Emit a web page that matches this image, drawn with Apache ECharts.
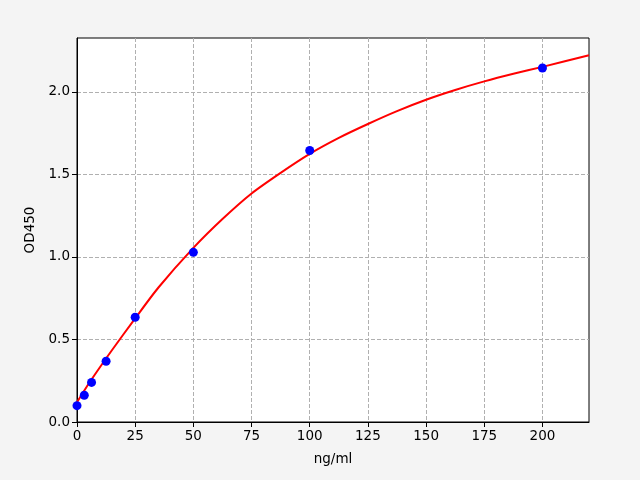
<!DOCTYPE html>
<html>
<head>
<meta charset="utf-8">
<script src="https://cdn.jsdelivr.net/npm/echarts@6/dist/echarts.min.js"></script>
<style>
html,body{margin:0;padding:0;background:#f4f4f4;}
#c{width:640px;height:480px;}
</style>
</head>
<body>
<div id="c"></div>
<script>
// Measured standards
var concentrations = [0, 3.125, 6.25, 12.5, 25, 50, 100, 200];
var odValues = [0.099, 0.162, 0.240, 0.368, 0.635, 1.028, 1.645, 2.145];
// Fitted curve
var curveX = [0, 5, 10, 15, 25, 35, 50, 62.5, 75, 87.5, 100, 112.5, 125, 137.5, 150, 162.5, 175, 187.5, 200, 220];
var curveY = [0.120, 0.232, 0.335, 0.435, 0.628, 0.815, 1.055, 1.230, 1.385, 1.510, 1.625, 1.722, 1.806, 1.884, 1.953, 2.012, 2.064, 2.110, 2.152, 2.222];
var xTicks = [0, 25, 50, 75, 100, 125, 150, 175, 200];
var yTicks = [0, 0.5, 1.0, 1.5, 2.0];

var chart = echarts.init(document.getElementById('c'));
var font = 'DejaVu Sans';
chart.setOption({
  backgroundColor: '#f4f4f4',
  animation: false,
  grid: {left: 77, right: 51, top: 38, bottom: 58, show: true, backgroundColor: '#ffffff', borderColor: '#000000', borderWidth: 1},
  xAxis: {
    type: 'value', min: 0, max: 220, interval: 25,
    name: 'ng/ml', nameLocation: 'middle', nameGap: 30,
    nameTextStyle: {fontFamily: font, fontSize: 13.5, color: '#000'},
    axisLine: {show: true, lineStyle: {color: '#000', width: 1}},
    axisTick: {show: true, inside: false, length: 5, lineStyle: {color: '#000'}, customValues: xTicks},
    axisLabel: {fontFamily: font, fontSize: 13.5, color: '#000', margin: 7, customValues: xTicks},
    splitLine: {show: true, lineStyle: {color: '#b0b0b0', type: [4, 2], width: 1}}
  },
  yAxis: {
    type: 'value', min: 0, max: 2.327, interval: 0.5,
    name: 'OD450', nameLocation: 'middle', nameGap: 37,
    nameTextStyle: {fontFamily: font, fontSize: 13.5, color: '#000'},
    axisLine: {show: true, lineStyle: {color: '#000', width: 1}},
    axisTick: {show: true, inside: false, length: 5, lineStyle: {color: '#000'}, customValues: yTicks},
    axisLabel: {fontFamily: font, fontSize: 13.5, color: '#000', margin: 7, customValues: yTicks,
      formatter: function (v) { return v.toFixed(1); }},
    splitLine: {show: true, lineStyle: {color: '#b0b0b0', type: [4, 2], width: 1}}
  },
  series: [
    {
      type: 'line', data: curveX.map(function (x, i) { return [x, curveY[i]]; }),
      smooth: 0.25, showSymbol: false, symbol: 'none',
      lineStyle: {color: '#ff0000', width: 2}, z: 2, clip: true
    },
    {
      type: 'scatter', data: concentrations.map(function (x, i) { return [x, odValues[i]]; }),
      symbol: 'circle', symbolSize: 9, itemStyle: {color: '#0000ff', opacity: 1}, z: 3, clip: false
    }
  ]
});
</script>
</body>
</html>
